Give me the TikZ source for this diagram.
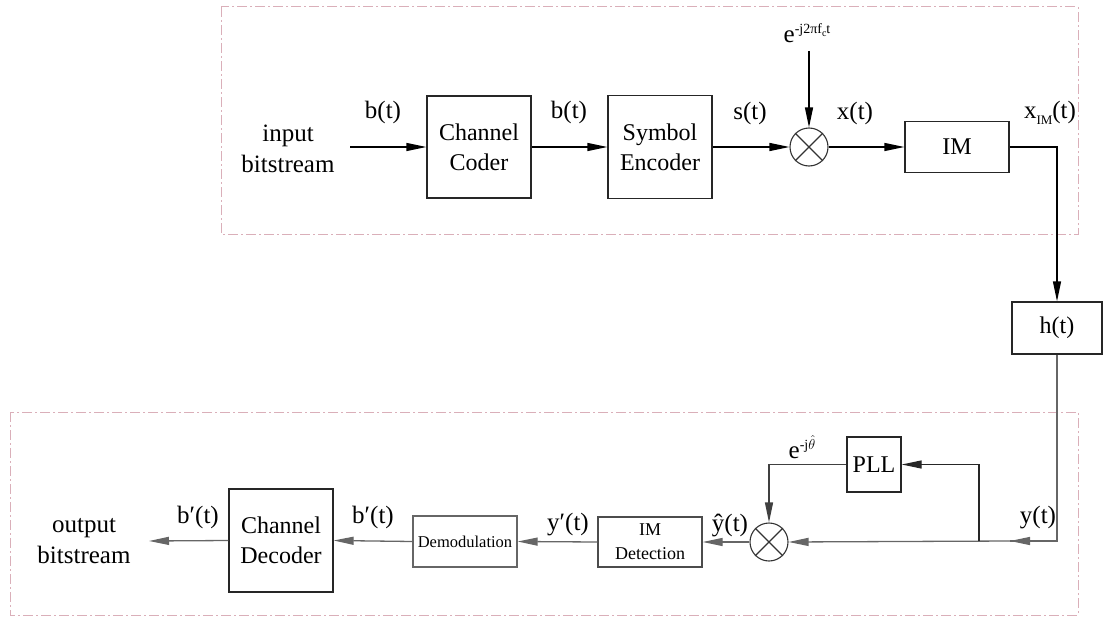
\documentclass[tikz,border=0pt]{standalone}
\usepackage{fontspec}
\setmainfont{Liberation Serif}
\usetikzlibrary{arrows.meta}
\definecolor{framec}{RGB}{218,175,185}
\tikzset{
 blk/.style={draw=black!85, line width=1.3pt, inner sep=0pt, align=center, font=\rmfamily\fontsize{24}{30}\selectfont},
 mix/.style={draw=black!80, line width=1.1pt, circle, minimum size=38pt, inner sep=0pt},
 lbl/.style={inner sep=0pt, align=center, font=\rmfamily\fontsize{25}{31}\selectfont},
 conn/.style={line width=1.3pt, draw=black},
 gconn/.style={line width=1.3pt, draw=black!60},
 arr/.style={conn, -{Triangle[length=20pt,width=8pt]}},
 garr/.style={gconn, -{Triangle[length=20pt,width=8pt]}},
 frame/.style={draw=framec, line width=1pt, dash pattern=on 10pt off 3pt on 2pt off 3pt},
}
\begin{document}
\begin{tikzpicture}[x=1pt,y=-1pt]
\useasboundingbox (0,0) rectangle (1103,618);
% frames
\draw[frame] (221,7) rectangle (1078,234);
\draw[frame] (10,412) rectangle (1078,615);

% top row
\node[lbl] (inp) at (288,149) {input\\bitstream};
\coordinate (in) at (350,147);
\node[blk, minimum width=104pt, minimum height=102pt] (cc) at (479,147) {Channel\\Coder};
\node[blk, minimum width=104pt, minimum height=103pt] (se) at (660,147) {Symbol\\Encoder};
\node[mix] (m1) at (809,147) {};
\draw[line width=1.1pt, black!80] (m1.45) -- (m1.225) (m1.135) -- (m1.315);
\node[blk, minimum width=104pt, minimum height=51pt] (im) at (957,147) {IM};
\node[blk, minimum width=90pt, minimum height=52pt] (h) at (1057,328) {h(t)};
\coordinate (ex) at (809,51);

\node[lbl] (l1) at (383,112) {b(t)};
\node[lbl] (l2) at (569,112) {b(t)};
\node[lbl] (l3) at (750,113) {s(t)};
\node[lbl] (l4) at (855,113) {x(t)};
\node[lbl] (l5) at (1050,113) {x\raisebox{-6pt}{\fontsize{13}{13}\selectfont IM}(t)};
\node[lbl] (l6) at (807,33) {e\raisebox{9pt}{\fontsize{14}{14}\selectfont -j2πf\raisebox{-3pt}{\fontsize{10}{10}\selectfont c}t}};

\draw[arr] (in) -- (cc.west);
\draw[arr] (cc.east) -- (se.west);
\draw[arr] (se.east) -- (m1.west);
\draw[arr] (ex) -- (m1.north);
\draw[arr] (m1.east) -- (im.west);
\draw[arr] (im.east) -| (h.north);

% bottom row
\node[blk, minimum width=54pt, minimum height=55pt] (pll) at (874,464.5) {PLL};
\node[mix] (m2) at (769,542) {};
\draw[line width=1.1pt, black!80] (m2.45) -- (m2.225) (m2.135) -- (m2.315);
\node[blk, draw=black!70, minimum width=104pt, minimum height=50pt, font=\rmfamily\fontsize{18}{24}\selectfont] (imd) at (650,542) {IM\\Detection};
\node[blk, draw=black!60, minimum width=104pt, minimum height=51pt, font=\rmfamily\fontsize{16.5}{20}\selectfont] (dem) at (465,541.5) {Demodulation};
\node[blk, minimum width=104pt, minimum height=103pt] (cd) at (281,540.5) {Channel\\Decoder};
\node[lbl] (outp) at (84,541) {output\\bitstream};
\coordinate (out) at (149,541);
\coordinate (ytip) at (1010,541);
\coordinate (br) at (979,541);

\node[lbl] (k1) at (1038,518) {y(t)};
\node[lbl] (k2) at (802,447) {e\raisebox{9pt}{\fontsize{14}{14}\selectfont -j$\hat{\theta}$}};
\node[lbl] (k3) at (730,525) {ŷ(t)};
\node[lbl] (k4) at (568,525) {y′(t)};
\node[lbl] (k5) at (373,517) {b′(t)};
\node[lbl] (k6) at (198,517) {b′(t)};

\draw[gconn] (h.south) |- (ytip);
\draw[garr] (h.south |- ytip) -- (ytip);
\draw[garr] (ytip) -- (m2.east);
\draw[arr, draw=black!85] (br) |- (pll.east);
\draw[arr, draw=black!75] (pll.west) -| (m2.north);
\draw[garr] (m2.west) -- (imd.east);
\draw[garr] (imd.west) -- (dem.east);
\draw[garr] (dem.west) -- (cd.east);
\draw[garr] (cd.west) -- (out);
\end{tikzpicture}
\end{document}
